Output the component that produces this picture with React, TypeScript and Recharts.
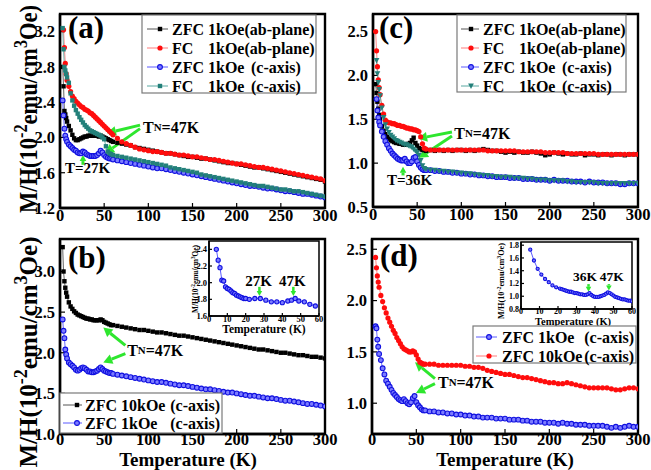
import React from "react";
import { LineChart, Line, XAxis, YAxis, ReferenceArea, ReferenceLine, ReferenceDot } from "recharts";

const FONT = '"Liberation Serif", "Times New Roman", serif';
const GREEN = "#2ee62e";

// temperature grid (K) shared by the four main panels
const TEMP = [
  3, 4, 5, 6, 7, 8, 10, 12, 14, 16, 18, 20, 22, 24, 26, 28, 30, 32, 34, 36, 38, 40, 42, 44, 46, 48, 50, 52, 54, 56, 58,
  60, 65, 70, 75, 80, 85, 90, 95, 100, 105, 110, 115, 120, 125, 130, 135, 140, 145, 150, 155, 160, 165, 170, 175, 180,
  185, 190, 195, 200, 205, 210, 215, 220, 225, 230, 235, 240, 245, 250, 255, 260, 265, 270, 275, 280, 285, 290, 295, 300,
];

// panel (a)
const A_ZFC_AB = [
  2.8, 2.58, 2.3, 2.26, 2.22, 2.18, 2.13, 2.08, 2.03, 1.99, 1.97, 1.97, 1.98, 1.99, 2.0, 2.01, 2.01, 2.02, 2.02, 2.02, 2.02,
  2.02, 2.02, 2.01, 2.02, 2.01, 2.0, 1.99, 1.98, 1.97, 1.96,
  1.95, 1.94, 1.93, 1.92, 1.91, 1.89, 1.88, 1.87, 1.86, 1.85, 1.84, 1.83, 1.82, 1.82, 1.81, 1.8, 1.79, 1.78, 1.78, 1.77,
  1.76, 1.76, 1.75, 1.74, 1.73, 1.72, 1.71, 1.71, 1.7, 1.69, 1.68, 1.67, 1.66, 1.66, 1.65, 1.64, 1.63, 1.62, 1.61, 1.6,
  1.59, 1.58, 1.57, 1.56, 1.55, 1.54, 1.53, 1.52, 1.5,
];
const A_FC_AB = [
  null, 3.22, 3.02, 2.84, 2.72, 2.65, 2.58, 2.52, 2.47, 2.44, 2.41, 2.39, 2.37, 2.35, 2.34, 2.32, 2.31, 2.3, 2.28, 2.27,
  2.25, 2.23, 2.21, 2.19, 2.17, 2.15, 2.13, 2.11, 2.09, 2.07, 2.05,
  2.03, 1.99, 1.95, 1.93, 1.91, 1.89, 1.87, 1.86, 1.85, 1.84, 1.84, 1.83, 1.82, 1.82, 1.81, 1.8, 1.8, 1.79, 1.78, 1.78,
  1.77, 1.76, 1.75, 1.75, 1.74, 1.73, 1.72, 1.71, 1.7, 1.7, 1.69, 1.68, 1.67, 1.66, 1.66, 1.65, 1.64, 1.63, 1.62, 1.61,
  1.6, 1.59, 1.58, 1.57, 1.56, 1.55, 1.54, 1.53, 1.51,
];
const A_ZFC_C = [
  2.42, 2.25, 2.1, 2.02, 1.98, 1.95, 1.92, 1.9, 1.88, 1.86, 1.85, 1.83, 1.82, 1.82, 1.84, 1.83, 1.81, 1.8, 1.79, 1.79,
  1.79, 1.79, 1.8, 1.82, 1.85, 1.83, 1.8, 1.78, 1.77, 1.76, 1.76,
  1.75, 1.74, 1.73, 1.72, 1.71, 1.7, 1.69, 1.68, 1.67, 1.66, 1.65, 1.65, 1.64, 1.63, 1.62, 1.61, 1.6, 1.59, 1.58, 1.57,
  1.56, 1.55, 1.54, 1.53, 1.52, 1.51, 1.5, 1.49, 1.48, 1.47, 1.46, 1.45, 1.45, 1.44, 1.43, 1.42, 1.42, 1.41, 1.4, 1.39,
  1.39, 1.38, 1.37, 1.36, 1.36, 1.35, 1.34, 1.33, 1.32,
];
const A_FC_C = [
  3.24, 3.0, 2.8, 2.76, 2.72, 2.68, 2.62, 2.5, 2.42, 2.36, 2.31, 2.27, 2.23, 2.2, 2.17, 2.14, 2.12, 2.1, 2.08, 2.07, 2.06,
  2.05, 2.04, 2.03, 2.02, 2.0, 1.98, 1.9, 1.84, 1.82, 1.81,
  1.8, 1.79, 1.78, 1.77, 1.76, 1.75, 1.74, 1.73, 1.72, 1.71, 1.7, 1.69, 1.68, 1.66, 1.65, 1.64, 1.63, 1.62, 1.61, 1.6,
  1.58, 1.57, 1.56, 1.55, 1.54, 1.53, 1.52, 1.51, 1.5, 1.49, 1.48, 1.47, 1.46, 1.45, 1.45, 1.44, 1.43, 1.42, 1.41, 1.41,
  1.4, 1.39, 1.39, 1.38, 1.37, 1.36, 1.35, 1.34, 1.33,
];

// panel (c)
const C_ZFC_AB = [
  1.9, 1.8, 1.7, 1.62, 1.55, 1.5, 1.42, 1.37, 1.33, 1.3, 1.28, 1.26, 1.25, 1.24, 1.23, 1.23, 1.22, 1.22, 1.21, 1.21, 1.21,
  1.22, 1.23, 1.26, 1.29, 1.23, 1.2, 1.17, 1.16, 1.15, 1.15,
  1.14, 1.15, 1.14, 1.15, 1.14, 1.15, 1.14, 1.15, 1.15, 1.14, 1.15, 1.14, 1.15, 1.16, 1.15, 1.14, 1.14, 1.13, 1.12, 1.13,
  1.12, 1.13, 1.12, 1.12, 1.13, 1.12, 1.11, 1.09, 1.1, 1.12, 1.11, 1.1, 1.11, 1.1, 1.1, 1.11, 1.09, 1.1, 1.1, 1.09,
  1.1, 1.1, 1.09, 1.1, 1.1, 1.09, 1.1, 1.1, 1.1,
];
const C_FC_AB = [
  2.5, 2.28, 2.1, 1.95, 1.86, 1.78, 1.66, 1.56, 1.49, 1.47, 1.46, 1.46, 1.45, 1.45, 1.44, 1.43, 1.43, 1.42, 1.42, 1.41,
  1.4, 1.4, 1.39, 1.39, 1.38, 1.38, 1.37, 1.36, 1.3, 1.22, 1.17,
  1.16, 1.15, 1.15, 1.15, 1.15, 1.15, 1.15, 1.15, 1.15, 1.15, 1.15, 1.15, 1.15, 1.15, 1.14, 1.14, 1.14, 1.14, 1.14, 1.14,
  1.14, 1.13, 1.13, 1.13, 1.13, 1.13, 1.13, 1.12, 1.12, 1.12, 1.12, 1.12, 1.11, 1.11, 1.11, 1.11, 1.11, 1.11, 1.11, 1.1,
  1.1, 1.1, 1.1, 1.1, 1.1, 1.1, 1.1, 1.1, 1.1,
];
const C_ZFC_C = [
  null, 1.73, 1.6, 1.52, 1.47, 1.43, 1.36, 1.3, 1.25, 1.21, 1.17, 1.14, 1.11, 1.09, 1.07, 1.05, 1.04, 1.03, 1.03, 1.05,
  1.02, 1.0, 1.0, 1.02, 1.06, 1.07, 1.02, 0.98, 0.95, 0.93, 0.92,
  0.92, 0.92, 0.91, 0.91, 0.9, 0.9, 0.89, 0.89, 0.88, 0.88, 0.87, 0.87, 0.86, 0.86, 0.85, 0.85, 0.84, 0.84, 0.84, 0.83,
  0.83, 0.83, 0.82, 0.82, 0.82, 0.81, 0.81, 0.81, 0.8, 0.81, 0.8, 0.8, 0.8, 0.79, 0.79, 0.79, 0.78, 0.79, 0.78, 0.78,
  0.78, 0.77, 0.77, 0.77, 0.76, 0.76, 0.77, 0.77, 0.77,
];
const C_FC_C = [
  null, 2.17, 2.02, 1.92, 1.84, 1.77, 1.63, 1.52, 1.44, 1.39, 1.35, 1.32, 1.3, 1.28, 1.26, 1.25, 1.24, 1.23, 1.22, 1.21,
  1.21, 1.2, 1.19, 1.18, 1.16, 1.14, 1.12, 1.09, 1.03, 0.97, 0.94,
  0.93, 0.92, 0.92, 0.91, 0.91, 0.9, 0.9, 0.89, 0.89, 0.88, 0.88, 0.87, 0.87, 0.86, 0.86, 0.85, 0.85, 0.84, 0.84, 0.84,
  0.83, 0.83, 0.83, 0.82, 0.82, 0.81, 0.81, 0.81, 0.8, 0.8, 0.8, 0.8, 0.79, 0.79, 0.78, 0.78, 0.78, 0.78, 0.78, 0.77,
  0.77, 0.77, 0.77, 0.77, 0.77, 0.77, 0.77, 0.77, 0.77,
];

// panel (b)
const B_ZFC_10K = [
  3.3, 3.0, 2.88, 2.8, 2.74, 2.69, 2.62, 2.57, 2.54, 2.51, 2.49, 2.47, 2.46, 2.45, 2.44, 2.43, 2.42, 2.42, 2.41, 2.41,
  2.4, 2.4, 2.4, 2.4, 2.41, 2.4, 2.38, 2.37, 2.36, 2.35, 2.34,
  2.34, 2.33, 2.32, 2.31, 2.3, 2.29, 2.28, 2.28, 2.27, 2.26, 2.25, 2.25, 2.24, 2.23, 2.22, 2.21, 2.21, 2.2, 2.19, 2.18,
  2.17, 2.16, 2.15, 2.14, 2.13, 2.12, 2.11, 2.1, 2.09, 2.08, 2.07, 2.06, 2.05, 2.04, 2.04, 2.03, 2.02, 2.01, 2.0, 2.0,
  1.99, 1.98, 1.97, 1.97, 1.96, 1.95, 1.95, 1.94, 1.93,
];
const B_ZFC_1K = [
  2.41, 2.27, 2.18, 2.04, 1.98, 1.93, 1.88, 1.86, 1.84, 1.82, 1.79, 1.78, 1.79, 1.81, 1.82, 1.81, 1.79, 1.77, 1.77, 1.76,
  1.76, 1.77, 1.78, 1.8, 1.82, 1.8, 1.78, 1.77, 1.76, 1.75, 1.75,
  1.74, 1.73, 1.72, 1.71, 1.7, 1.69, 1.68, 1.67, 1.66, 1.65, 1.64, 1.64, 1.63, 1.62, 1.61, 1.6, 1.6, 1.59, 1.58, 1.57,
  1.56, 1.55, 1.55, 1.54, 1.53, 1.52, 1.51, 1.51, 1.5, 1.49, 1.48, 1.47, 1.47, 1.46, 1.45, 1.44, 1.44, 1.43, 1.42, 1.41,
  1.41, 1.4, 1.39, 1.38, 1.37, 1.37, 1.36, 1.35, 1.34,
];

// panel (d)
const D_ZFC_1K = [
  null, 1.75, 1.73, 1.62, 1.55, 1.48, 1.42, 1.34, 1.28, 1.22, 1.19, 1.16, 1.13, 1.1, 1.08, 1.06, 1.04, 1.03, 1.02, 1.04,
  1.02, 1.0, 0.99, 1.01, 1.05, 1.07, 1.01, 0.98, 0.96, 0.94, 0.93,
  0.93, 0.92, 0.92, 0.91, 0.91, 0.9, 0.9, 0.89, 0.89, 0.88, 0.88, 0.87, 0.87, 0.86, 0.86, 0.86, 0.85, 0.85, 0.85, 0.84,
  0.84, 0.84, 0.83, 0.83, 0.82, 0.82, 0.82, 0.81, 0.81, 0.81, 0.8, 0.81, 0.8, 0.8, 0.79, 0.79, 0.79, 0.78, 0.78, 0.78,
  0.78, 0.77, 0.76, 0.77, 0.76, 0.77, 0.78, 0.77, 0.77,
];
const D_ZFC_10K = [
  null, 2.42, 2.32, 2.24, 2.18, 2.13, 2.05, 1.99, 1.93, 1.88, 1.83, 1.79, 1.75, 1.71, 1.68, 1.64, 1.61, 1.58, 1.55, 1.53,
  1.52, 1.51, 1.5, 1.5, 1.51, 1.5, 1.47, 1.43, 1.4, 1.39, 1.38,
  1.38, 1.38, 1.38, 1.37, 1.37, 1.37, 1.37, 1.37, 1.37, 1.36, 1.36, 1.35, 1.35, 1.34, 1.32, 1.31, 1.3, 1.29, 1.28, 1.28,
  1.27, 1.26, 1.25, 1.25, 1.24, 1.23, 1.22, 1.21, 1.2, 1.2, 1.19, 1.19, 1.2, 1.19, 1.18, 1.17, 1.16, 1.15, 1.15, 1.15,
  1.15, 1.15, 1.14, 1.13, 1.13, 1.14, 1.15, 1.15, 1.14,
];

// insets (low temperature, c-axis 1 kOe)
const INSET_B_T = [4, 5, 6, 7, 8, 9, 10, 11, 12, 13, 14, 15, 16, 17, 18, 19, 20, 22, 25, 28, 31, 34, 37, 40, 43, 45, 47, 49, 52, 55, 58];
const INSET_B_V = [
  2.4, 2.27, 2.18, 2.03, 2.02, 1.95, 1.93, 1.92, 1.9, 1.88, 1.87, 1.85, 1.84, 1.83, 1.82, 1.81, 1.81, 1.8, 1.81, 1.81,
  1.79, 1.77, 1.77, 1.76, 1.78, 1.79, 1.81, 1.78, 1.77, 1.74, 1.72,
];
const INSET_D_T = [
  5, 7, 9, 11, 13, 15, 17, 19, 21, 22, 23, 24, 25, 26, 27, 28, 29, 30, 31, 32, 33, 34, 35, 36, 37, 38, 39, 40, 41, 42, 43,
  44, 45, 46, 47, 48, 49, 50, 51, 52, 53, 54, 55, 56, 57, 58, 59, 60,
];
const INSET_D_V = [
  1.73, 1.56, 1.43, 1.34, 1.27, 1.22, 1.17, 1.14, 1.12, 1.11, 1.1, 1.09, 1.08, 1.07, 1.07, 1.06, 1.05, 1.05, 1.04, 1.03,
  1.03, 1.02, 1.02, 1.03, 1.05, 1.02, 1.0, 0.99, 0.99, 0.99, 1.0, 1.01, 1.02, 1.04, 1.06, 1.05, 1.03, 1.01, 0.99, 0.98,
  0.97, 0.96, 0.95, 0.95, 0.94, 0.93, 0.93, 0.92,
];

const X_TICKS = [0, 50, 100, 150, 200, 250, 300];
const X_TICKS_INSET = [0, 10, 20, 30, 40, 50, 60];

type Kind = "square" | "circle" | "ball" | "tri";

function markShape(kind: Kind, cx: number, cy: number, color: string, size: number, key?: any) {
  if (kind === "square")
    return <rect key={key} x={cx - size} y={cy - size} width={size * 2} height={size * 2} fill={color} />;
  if (kind === "tri")
    return (
      <polygon
        key={key}
        points={`${cx - size * 1.2},${cy - size} ${cx + size * 1.2},${cy - size} ${cx},${cy + size * 1.2}`}
        fill={color}
      />
    );
  if (kind === "ball")
    return <circle key={key} cx={cx} cy={cy} r={size} fill="#7c7cff" stroke={color} strokeWidth={1.1} />;
  return <circle key={key} cx={cx} cy={cy} r={size} fill={color} />;
}

const BLACK = { color: "#000", line: "#555", mark: "square" as Kind, size: 2.2 };
const RED = { color: "#ff0d0d", line: "#ff7a7a", mark: "circle" as Kind, size: 2.6 };
const BLUE = { color: "#1010e0", line: "#5a5aff", mark: "ball" as Kind, size: 2.4 };
const TEAL_SQ = { color: "#23807a", line: "#5aa8a2", mark: "square" as Kind, size: 2.2 };
const TEAL_TRI = { color: "#23807a", line: "#5aa8a2", mark: "tri" as Kind, size: 2.4 };

function GreenArrow(props: any) {
  const { x1, y1, x2, y2, w = 3, head = 9 } = props;
  const dx = x2 - x1;
  const dy = y2 - y1;
  const len = Math.hypot(dx, dy) || 1;
  const ux = dx / len;
  const uy = dy / len;
  const bx = x2 - ux * head;
  const by = y2 - uy * head;
  const hw = head * 0.55;
  return (
    <g>
      <line x1={x1} y1={y1} x2={bx} y2={by} stroke={GREEN} strokeWidth={w} />
      <polygon points={`${x2},${y2} ${bx - uy * hw},${by + ux * hw} ${bx + uy * hw},${by - ux * hw}`} fill={GREEN} />
    </g>
  );
}

type Note = { x: number; y: number; parts: { s: string; small?: boolean }[]; size: number; anchor?: string };
type Arrow = { from: [number, number]; to: [number, number]; w?: number; head?: number };

const TN = [{ s: "T" }, { s: "N", small: true }, { s: "=47K" }];

function Panel(props: any) {
  const {
    left, top, width, height, margin, yWidth, xHeight, xMax, xTicks, yDomain, yTicks, temps, series,
    notes = [], arrows = [], fs = 16.5, tick = 5, xGap = 7, yGap = 10, frame = 2.4, lineW = 0.9,
  } = props;
  const rows = temps.map((t: number, i: number) => {
    const r: any = { t };
    series.forEach((s: any, k: number) => {
      r["s" + k] = s.values[i];
    });
    return r;
  });
  const tickStyle = { fill: "#000", fontSize: fs, fontWeight: 700, fontFamily: FONT };
  return (
    <div style={{ position: "absolute", left, top }}>
      <LineChart width={width} height={height} data={rows} margin={margin}>
        <XAxis
          type="number" dataKey="t" domain={[0, xMax]} ticks={xTicks} interval={0} allowDataOverflow
          height={xHeight} tickSize={-tick} tickMargin={xGap}
          axisLine={{ stroke: "#000", strokeWidth: frame }} tickLine={{ stroke: "#000", strokeWidth: 1.2 }} tick={tickStyle}
        />
        <YAxis
          type="number" domain={yDomain} ticks={yTicks} interval={0} allowDataOverflow width={yWidth}
          tickFormatter={(v: number) => v.toFixed(1)} tickSize={-tick} tickMargin={yGap}
          axisLine={{ stroke: "#000", strokeWidth: frame }} tickLine={{ stroke: "#000", strokeWidth: 1.2 }} tick={tickStyle}
        />
        <ReferenceArea
          x1={0} x2={xMax} y1={yDomain[0]} y2={yDomain[1]} fill="none" fillOpacity={0}
          stroke="#000" strokeWidth={frame} ifOverflow="visible"
        />
        {series.map((s: any, k: number) => (
          <Line
            key={k}
            dataKey={"s" + k}
            stroke={s.line}
            strokeWidth={lineW}
            connectNulls
            isAnimationActive={false}
            activeDot={false}
            dot={(p: any) =>
              p.cy == null || isNaN(p.cy) ? <g key={p.index} /> : markShape(s.mark, p.cx, p.cy, s.color, s.size, p.index)
            }
          />
        ))}
        {arrows.map((a: Arrow, i: number) => (
          <ReferenceLine
            key={"a" + i}
            segment={[{ x: a.from[0], y: a.from[1] }, { x: a.to[0], y: a.to[1] }]}
            ifOverflow="visible"
            shape={(p: any) => <GreenArrow {...p} w={a.w ?? 3} head={a.head ?? 9} />}
          />
        ))}
        {notes.map((n: Note, i: number) => (
          <ReferenceDot
            key={"n" + i}
            x={n.x}
            y={n.y}
            ifOverflow="visible"
            shape={(p: any) => (
              <text
                x={p.cx} y={p.cy} dominantBaseline="central" textAnchor={n.anchor ?? "start"}
                fontFamily={FONT} fontWeight={700} fontSize={n.size} fill="#000"
              >
                {n.parts.map((pt, j) => (
                  <tspan key={j} fontSize={pt.small ? n.size * 0.68 : n.size}>{pt.s}</tspan>
                ))}
              </text>
            )}
          />
        ))}
      </LineChart>
    </div>
  );
}

function YTitle({ x, y, size, len }: { x: number; y: number; size: number; len: number }) {
  const sup = size * 0.72;
  const up = size * 0.4;
  return (
    <text
      transform={`translate(${x},${y}) rotate(-90)`} textAnchor="middle" fontFamily={FONT} fontWeight={700}
      fontSize={size} fill="#000" textLength={len} lengthAdjust="spacingAndGlyphs"
    >
      M/H(10<tspan dy={-up} fontSize={sup}>-2</tspan>
      <tspan dy={up}>emu/cm</tspan>
      <tspan dy={-up} fontSize={sup}>3</tspan>
      <tspan dy={up}>Oe)</tspan>
    </text>
  );
}

type Row = { y: number; style: any; texts: { x: number; s: string; anchor?: string }[] };

function LegendBox({ x, y, w, h, lx1, lx2, mx, fs, rows }: any) {
  return (
    <g>
      <rect x={x} y={y} width={w} height={h} fill="#fff" stroke="#7a7a7a" strokeWidth={1.2} />
      {rows.map((r: Row, i: number) => (
        <g key={i}>
          <line x1={lx1} x2={lx2} y1={r.y} y2={r.y} stroke={r.style.line} strokeWidth={1} />
          {markShape(r.style.mark, mx, r.y, r.style.color, r.style.size)}
          {r.texts.map((t, j) => (
            <text
              key={j} x={t.x} y={r.y} textAnchor={t.anchor ?? "start"} dominantBaseline="central"
              fontFamily={FONT} fontWeight={700} fontSize={fs} fill="#000"
            >
              {t.s}
            </text>
          ))}
        </g>
      ))}
    </g>
  );
}

export default function App() {
  const seriesA = [
    { values: A_ZFC_AB, ...BLACK },
    { values: A_FC_AB, ...RED },
    { values: A_ZFC_C, ...BLUE },
    { values: A_FC_C, ...TEAL_SQ },
  ];
  const seriesC = [
    { values: C_ZFC_AB, ...BLACK },
    { values: C_FC_AB, ...RED },
    { values: C_ZFC_C, ...BLUE },
    { values: C_FC_C, ...TEAL_TRI },
  ];
  const seriesB = [
    { values: B_ZFC_10K, ...BLACK },
    { values: B_ZFC_1K, ...BLUE },
  ];
  const seriesD = [
    { values: D_ZFC_1K, ...BLUE },
    { values: D_ZFC_10K, ...RED },
  ];

  return (
    <div style={{ position: "relative", width: 651, height: 470, background: "#fff", overflow: "hidden" }}>
      <style>{"body{margin:0}"}</style>

      <Panel
        left={0} top={0} width={340} height={236} margin={{ top: 14, right: 15, bottom: 0, left: 0 }}
        yWidth={60} xHeight={28} xMax={300} xTicks={X_TICKS} yDomain={[1.2, 3.4]} yTicks={[1.2, 1.6, 2.0, 2.4, 2.8, 3.2]}
        temps={TEMP} series={seriesA} xGap={6}
        arrows={[
          { from: [90.6, 2.14], to: [53.2, 2.05] },
          { from: [90.6, 2.1], to: [51, 1.82] },
          { from: [26, 1.69], to: [26, 1.8], head: 6 },
        ]}
        notes={[
          { x: 94, y: 2.12, parts: TN, size: 16 },
          { x: 5.7, y: 1.65, parts: [{ s: "T=27K" }], size: 15 },
        ]}
      />
      <Panel
        left={330} top={0} width={321} height={236} margin={{ top: 14, right: 13, bottom: 0, left: 0 }}
        yWidth={43} xHeight={29} xMax={300} xTicks={X_TICKS} yDomain={[0.5, 2.7]} yTicks={[0.5, 1.0, 1.5, 2.0, 2.5]}
        temps={TEMP} series={seriesC} xGap={6}
        arrows={[
          { from: [89.4, 1.355], to: [51, 1.28] },
          { from: [89.4, 1.31], to: [52, 1.06] },
          { from: [34, 0.86], to: [34, 0.96], head: 6 },
        ]}
        notes={[
          { x: 92, y: 1.34, parts: TN, size: 16 },
          { x: 15.8, y: 0.81, parts: [{ s: "T=36K" }], size: 15 },
        ]}
      />
      <Panel
        left={0} top={236} width={340} height={234} margin={{ top: 3, right: 15, bottom: 0, left: 0 }}
        yWidth={60} xHeight={36} xMax={300} xTicks={X_TICKS} yDomain={[1.0, 3.4]} yTicks={[1.0, 1.5, 2.0, 2.5, 3.0]}
        temps={TEMP} series={seriesB} xGap={4.5}
        arrows={[
          { from: [74, 2.09], to: [49, 2.31] },
          { from: [74, 1.99], to: [49, 1.88] },
        ]}
        notes={[{ x: 76, y: 2.04, parts: TN, size: 16 }]}
      />
      <Panel
        left={330} top={236} width={321} height={234} margin={{ top: 3, right: 13, bottom: 0, left: 0 }}
        yWidth={42} xHeight={36} xMax={300} xTicks={X_TICKS} yDomain={[0.7, 2.6]} yTicks={[1.0, 1.5, 2.0, 2.5]}
        temps={TEMP} series={seriesD} xGap={4.5}
        arrows={[
          { from: [71, 1.24], to: [48.5, 1.4] },
          { from: [71, 1.19], to: [49.6, 1.1] },
        ]}
        notes={[{ x: 74.4, y: 1.21, parts: TN, size: 16 }]}
      />

      <Panel
        left={175} top={236} width={150} height={100} margin={{ top: 5, right: 6, bottom: 0, left: 0 }}
        yWidth={34} xHeight={20} xMax={60} xTicks={X_TICKS_INSET} yDomain={[1.6, 2.5]} yTicks={[1.6, 1.8, 2.0, 2.2, 2.4]}
        temps={INSET_B_T} series={[{ values: INSET_B_V, ...BLUE, size: 2.1 }]}
        fs={8.5} tick={3} xGap={3} yGap={5} frame={1.5} lineW={1}
        arrows={[
          { from: [27.5, 1.95], to: [27.5, 1.84], w: 2.5, head: 5 },
          { from: [46, 1.95], to: [46, 1.84], w: 2.5, head: 5 },
        ]}
        notes={[
          { x: 27, y: 2.02, parts: [{ s: "27K" }], size: 15, anchor: "middle" },
          { x: 45.5, y: 2.02, parts: [{ s: "47K" }], size: 15, anchor: "middle" },
        ]}
      />
      <Panel
        left={485} top={237} width={155} height={95} margin={{ top: 5, right: 8, bottom: 0, left: 0 }}
        yWidth={36} xHeight={23} xMax={60} xTicks={X_TICKS_INSET} yDomain={[0.8, 1.85]}
        yTicks={[0.8, 1.0, 1.2, 1.4, 1.6, 1.8]}
        temps={INSET_D_T} series={[{ values: INSET_D_V, ...BLUE, size: 1.6 }]}
        fs={8} tick={3} xGap={2} yGap={5} frame={1.5} lineW={1}
        arrows={[
          { from: [36.5, 1.19], to: [36.5, 1.07], w: 2.5, head: 5 },
          { from: [47.5, 1.19], to: [47.5, 1.09], w: 2.5, head: 5 },
        ]}
        notes={[
          { x: 34.6, y: 1.31, parts: [{ s: "36K" }], size: 13.5, anchor: "middle" },
          { x: 49, y: 1.31, parts: [{ s: "47K" }], size: 13.5, anchor: "middle" },
        ]}
      />

      <svg width={651} height={470} style={{ position: "absolute", left: 0, top: 0, pointerEvents: "none" }}>
        <YTitle x={37} y={109} size={26} len={208} />
        <YTitle x={37} y={352} size={26} len={231} />
        <YTitle x={198} y={279} size={8} len={68} />
        <YTitle x={504} y={281} size={8} len={76} />

        <text x={188} y={465.8} textAnchor="middle" fontFamily={FONT} fontWeight={700} fontSize={19}>Temperature (K)</text>
        <text x={505} y={465.8} textAnchor="middle" fontFamily={FONT} fontWeight={700} fontSize={19}>Temperature (K)</text>
        <text x={264} y={333} textAnchor="middle" fontFamily={FONT} fontWeight={700} fontSize={11.5}>Temperature (K)</text>
        <text x={573} y={325} textAnchor="middle" fontFamily={FONT} fontWeight={700} fontSize={10.5}>Temperature (K)</text>

        <text x={68} y={38} fontFamily={FONT} fontWeight={700} fontSize={31}>(a)</text>
        <text x={379} y={38} fontFamily={FONT} fontWeight={700} fontSize={31}>(c)</text>
        <text x={68} y={268} fontFamily={FONT} fontWeight={700} fontSize={31}>(b)</text>
        <text x={380} y={266} fontFamily={FONT} fontWeight={700} fontSize={31}>(d)</text>

        <LegendBox
          x={142} y={15} w={174} h={78} lx1={147} lx2={168} mx={160} fs={16}
          rows={[
            { y: 29, style: BLACK, texts: [{ x: 172, s: "ZFC" }, { x: 208, s: "1kOe(ab-plane)" }] },
            { y: 48, style: RED, texts: [{ x: 172, s: "FC" }, { x: 208, s: "1kOe(ab-plane)" }] },
            { y: 67, style: BLUE, texts: [{ x: 172, s: "ZFC" }, { x: 208, s: "1kOe" }, { x: 251, s: "(c-axis)" }] },
            { y: 86, style: TEAL_SQ, texts: [{ x: 172, s: "FC" }, { x: 208, s: "1kOe" }, { x: 251, s: "(c-axis)" }] },
          ]}
        />
        <LegendBox
          x={457} y={15} w={169} h={77} lx1={461} lx2={479} mx={471} fs={16}
          rows={[
            { y: 29, style: BLACK, texts: [{ x: 483, s: "ZFC" }, { x: 519, s: "1kOe(ab-plane)" }] },
            { y: 48, style: RED, texts: [{ x: 483, s: "FC" }, { x: 519, s: "1kOe(ab-plane)" }] },
            { y: 67, style: BLUE, texts: [{ x: 483, s: "ZFC" }, { x: 519, s: "1kOe" }, { x: 562, s: "(c-axis)" }] },
            { y: 86, style: TEAL_TRI, texts: [{ x: 483, s: "FC" }, { x: 519, s: "1kOe" }, { x: 562, s: "(c-axis)" }] },
          ]}
        />
        <LegendBox
          x={60} y={393} w={162} h={40} lx1={63} lx2={82} mx={77} fs={16}
          rows={[
            { y: 405, style: BLACK, texts: [{ x: 85, s: "ZFC 10kOe" }, { x: 220, s: "(c-axis)", anchor: "end" }] },
            { y: 423, style: BLUE, texts: [{ x: 85, s: "ZFC 1kOe" }, { x: 220, s: "(c-axis)", anchor: "end" }] },
          ]}
        />
        <LegendBox
          x={473} y={326} w={163} h={37} lx1={476} lx2={497} mx={489} fs={16}
          rows={[
            { y: 337, style: BLUE, texts: [{ x: 502, s: "ZFC 1kOe" }, { x: 634, s: "(c-axis)", anchor: "end" }] },
            { y: 356, style: RED, texts: [{ x: 502, s: "ZFC 10kOe" }, { x: 634, s: "(c-axis)", anchor: "end" }] },
          ]}
        />
      </svg>
    </div>
  );
}
